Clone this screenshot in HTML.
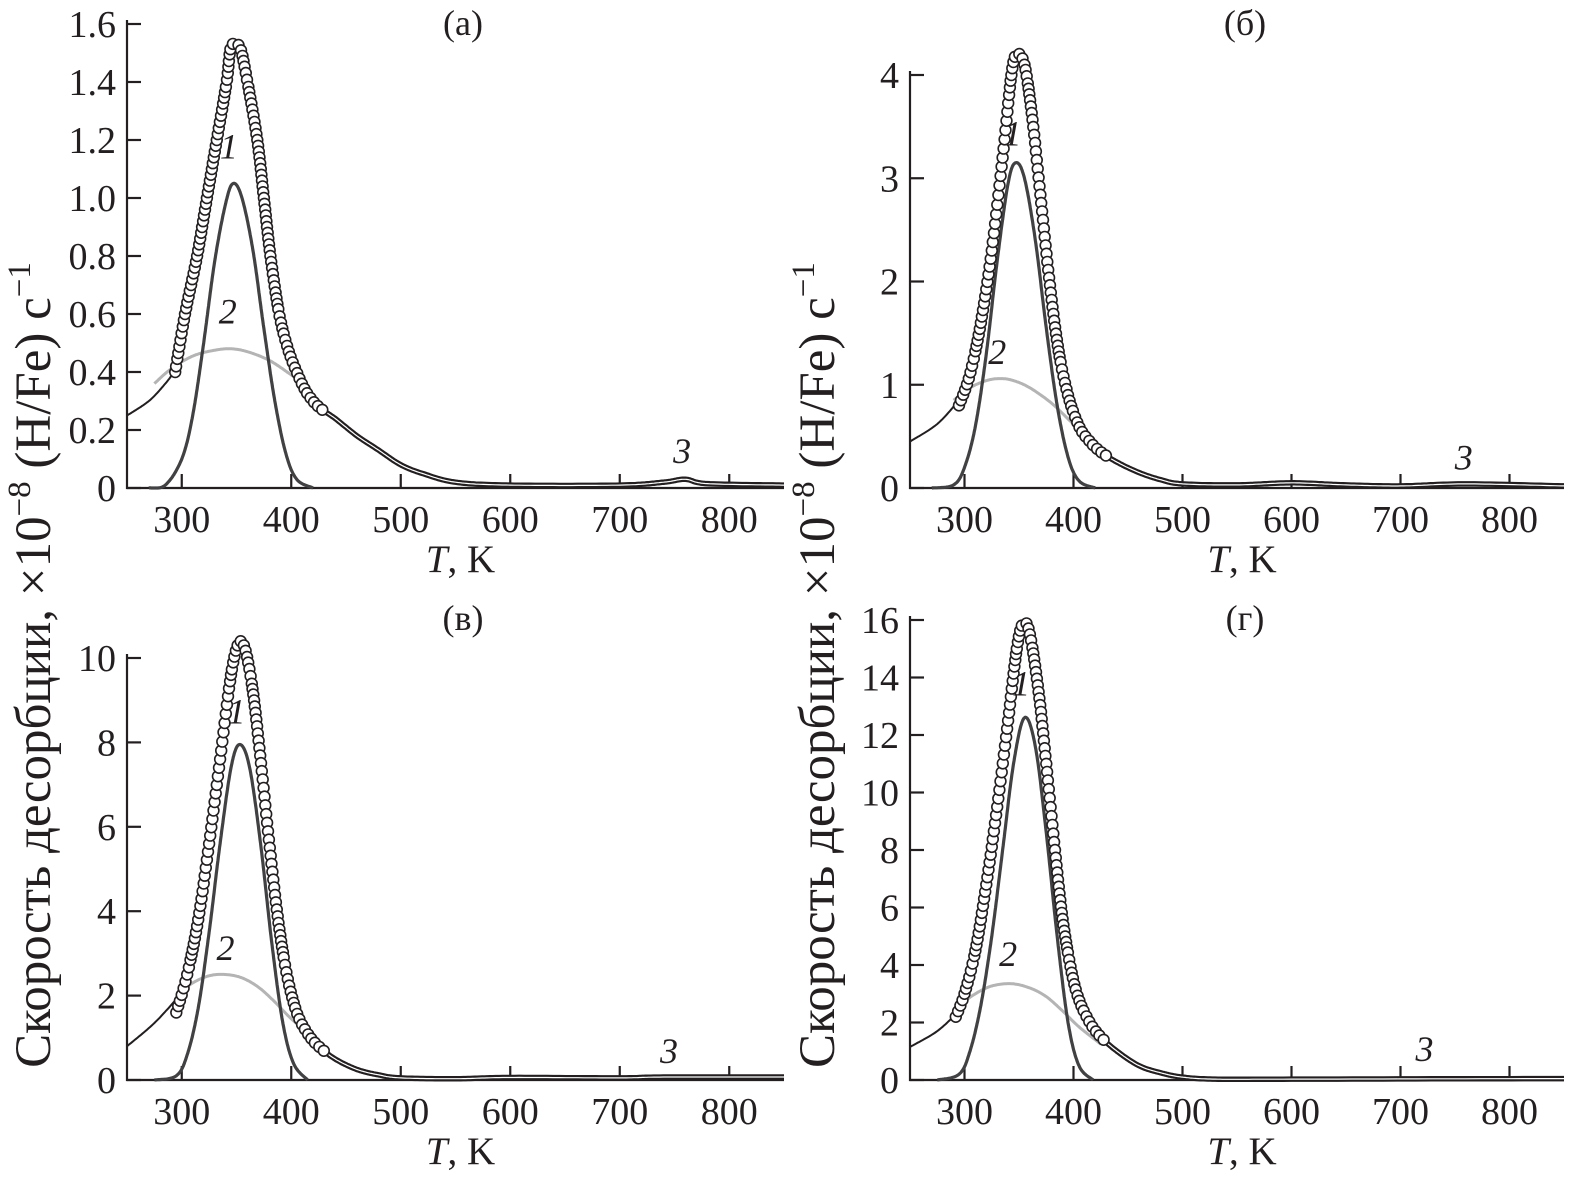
<!DOCTYPE html>
<html><head><meta charset="utf-8"><style>
html,body{margin:0;padding:0;background:#fff}
svg{display:block}
text{font-family:"Liberation Serif","DejaVu Serif",serif;fill:#231f20}
</style></head><body>
<svg id="fig" width="1579" height="1187" viewBox="0 0 1579 1187" xmlns="http://www.w3.org/2000/svg"></svg>
<script>
// ---- data (T in K, rate ×1e-8 (H/Fe)/s) ----
const xTicks = [300,400,500,600,700,800];
const yTicksA = [0,0.2,0.4,0.6,0.8,1.0,1.2,1.4,1.6];
const yTicksB = [0,1,2,3,4];
const yTicksC = [0,2,4,6,8,10];
const yTicksD = [0,2,4,6,8,10,12,14,16];

const a_dataT = [294,303,314,323,332,341,345,353,360,369,375,381,389,397,405,414,425,440,460,480,500,520,550,600,700,740,760,780,850];
const a_dataV = [0.4,0.6,0.8,1.0,1.2,1.4,1.52,1.52,1.4,1.2,1.0,0.8,0.6,0.48,0.4,0.33,0.28,0.24,0.18,0.13,0.08,0.05,0.02,0.01,0.01,0.02,0.03,0.015,0.01];
const a_p1T = [270,285,300,310,320,330,340,347,355,365,375,385,395,405,420];
const a_p1V = [0,0.01,0.1,0.25,0.5,0.78,0.98,1.05,1.0,0.82,0.55,0.3,0.12,0.03,0];
const a_p2T = [275,290,310,330,345,360,380,400,415];
const a_p2V = [0.36,0.41,0.455,0.475,0.48,0.47,0.44,0.39,0.35];
const a_fitT = [250,270,285,295];
const a_fitV = [0.25,0.3,0.36,0.41];

const b_dataT = [295,305,315,325,335,343,348,355,362,370,378,386,395,405,415,425,440,460,480,500,550,600,650,700,760,850];
const b_dataV = [0.8,1.1,1.6,2.3,3.2,4.0,4.2,4.1,3.6,2.8,2.0,1.35,0.9,0.6,0.45,0.35,0.25,0.15,0.08,0.04,0.03,0.05,0.03,0.02,0.04,0.02];
const b_p1T = [270,290,300,310,320,330,340,347,355,365,375,385,395,405,420];
const b_p1V = [0,0.03,0.2,0.6,1.3,2.2,2.95,3.15,3.0,2.4,1.55,0.8,0.3,0.07,0];
const b_p2T = [290,305,320,333,345,360,380,400,420];
const b_p2V = [0.85,0.97,1.04,1.06,1.04,0.97,0.82,0.62,0.45];
const b_fitT = [250,275,295];
const b_fitV = [0.45,0.62,0.85];

const c_dataT = [295,305,315,325,335,345,352,358,365,372,380,388,396,405,415,425,440,460,480,500,550,600,700,740,850];
const c_dataV = [1.6,2.5,3.8,5.6,7.6,9.6,10.35,10.2,9.2,7.6,5.6,3.8,2.5,1.6,1.1,0.8,0.5,0.25,0.12,0.05,0.03,0.06,0.05,0.07,0.07];
const c_p1T = [275,295,305,315,325,335,345,353,362,372,382,392,402,415];
const c_p1V = [0,0.1,0.6,1.7,3.5,5.6,7.4,7.95,7.4,5.6,3.3,1.4,0.4,0];
const c_p2T = [298,310,325,340,355,370,385,400,420];
const c_p2V = [2.05,2.3,2.47,2.5,2.42,2.2,1.85,1.45,1.0];
const c_fitT = [250,275,298];
const c_fitV = [0.8,1.35,2.0];

const d_dataT = [292,300,310,320,330,340,348,354,360,368,375,383,390,398,405,415,425,440,460,480,500,530,600,850];
const d_dataV = [2.2,3.0,4.5,6.8,9.5,12.5,15.0,15.9,15.5,13.5,11.0,8.0,5.6,3.8,2.8,2.0,1.5,1.0,0.5,0.25,0.1,0.03,0.03,0.05];
const d_p1T = [275,295,305,315,325,335,345,355,365,375,385,395,405,418];
const d_p1V = [0,0.2,1.0,2.6,5.0,8.0,11.0,12.6,11.6,8.6,5.0,2.0,0.5,0];
const d_p2T = [295,310,325,343,360,375,390,405,425];
const d_p2V = [2.6,3.0,3.27,3.35,3.2,2.9,2.4,1.85,1.25];
const d_fitT = [250,275,295];
const d_fitV = [1.15,1.7,2.4];

const panels = [
 {id:'a',title:'(а)',x0:127,px100:109.5,xMax:850,yBase:488,yTop:24,yMax:1.6,ticks:yTicksA,fmt:v=>v===0?'0':v.toFixed(1),
  data:[a_dataT,a_dataV],p1:[a_p1T,a_p1V],p2:[a_p2T,a_p2V],fit:[a_fitT,a_fitV],lab:{l1:[343,1.13],l2:[342,0.56],l3:[757,0.08]},titleX:463,titleY:35},
 {id:'b',title:'(б)',x0:910,px100:109,xMax:850,yBase:488,yTop:75,yMax:4,ticks:yTicksB,fmt:v=>String(v),
  data:[b_dataT,b_dataV],p1:[b_p1T,b_p1V],p2:[b_p2T,b_p2V],fit:[b_fitT,b_fitV],lab:{l1:[344,3.3],l2:[330,1.18],l3:[758,0.16]},titleX:1245,titleY:35},
 {id:'c',title:'(в)',x0:127,px100:109.5,xMax:850,yBase:1080,yTop:658,yMax:10,ticks:yTicksC,fmt:v=>String(v),
  data:[c_dataT,c_dataV],p1:[c_p1T,c_p1V],p2:[c_p2T,c_p2V],fit:[c_fitT,c_fitV],lab:{l1:[350,8.4],l2:[340,2.8],l3:[745,0.35]},titleX:463,titleY:630},
 {id:'d',title:'(г)',x0:910,px100:109,xMax:850,yBase:1080,yTop:620,yMax:16,ticks:yTicksD,fmt:v=>String(v),
  data:[d_dataT,d_dataV],p1:[d_p1T,d_p1V],p2:[d_p2T,d_p2V],fit:[d_fitT,d_fitV],lab:{l1:[352,13.3],l2:[340,3.9],l3:[722,0.6]},titleX:1245,titleY:630}
];

const svg = document.getElementById('fig');
const NS='http://www.w3.org/2000/svg';
function mk(tag,attrs,parent){const e=document.createElementNS(NS,tag);for(const k in attrs)e.setAttribute(k,attrs[k]);(parent||svg).appendChild(e);return e;}

function smooth(T,V){
  const out=[];
  for(let i=0;i<T.length-1;i++){
    const p0=i>0?i-1:i, p3=i+2<T.length?i+2:i+1;
    for(let s=0;s<20;s++){
      const t=s/20,t2=t*t,t3=t2*t;
      const f=(a,b,c,d)=>0.5*((2*b)+(-a+c)*t+(2*a-5*b+4*c-d)*t2+(-a+3*b-3*c+d)*t3);
      out.push([f(T[p0],T[i],T[i+1],T[p3]),f(V[p0],V[i],V[i+1],V[p3])]);
    }
  }
  out.push([T[T.length-1],V[V.length-1]]);
  return out;
}

panels.forEach(P=>{
  const g=mk('g',{});
  
  
  const X=t=>P.x0+(t-250)*P.px100/100;
  const Y=v=>P.yBase-(v/P.yMax)*(P.yBase-P.yTop);
  const xEnd=X(P.xMax);
  const ax=mk('path',{d:`M${P.x0},${P.yTop-4}V${P.yBase}H${xEnd}`,fill:'none',stroke:'#231f20','stroke-width':2.2},g);
  
  
  P.ticks.forEach(v=>{
    mk('line',{x1:P.x0,x2:P.x0+14,y1:Y(v),y2:Y(v),stroke:'#231f20','stroke-width':2.2},g);
    const t=mk('text',{x:P.x0-11,y:Y(v)+13,'font-size':38,'text-anchor':'end'},g);
    t.textContent=P.fmt(v);
    
    
  });
  xTicks.forEach(v=>{
    mk('line',{x1:X(v),x2:X(v),y1:P.yBase,y2:P.yBase-14,stroke:'#231f20','stroke-width':2.2},g);
    const t=mk('text',{x:X(v),y:P.yBase+44,'font-size':38,'text-anchor':'middle'},g);
    t.textContent=v;
    
    
  });
  const xl=mk('text',{x:(P.x0+xEnd)/2+5,y:P.yBase+84,'font-size':39,'text-anchor':'middle'},g);
  xl.innerHTML='<tspan font-style="italic">T</tspan>, K';
  
  
  const tt=mk('text',{x:P.titleX,y:P.titleY,'font-size':36,'text-anchor':'middle'},g);
  tt.textContent=P.title;
  
  
  const toPath=pts=>pts.map((p,i)=>(i?'L':'M')+X(p[0]).toFixed(1)+','+Y(Math.max(0,p[1])).toFixed(1)).join('');
  const c2=mk('path',{d:toPath(smooth(P.p2[0],P.p2[1])),fill:'none',stroke:'#b4b4b4','stroke-width':3},g);
  
  
  const c1=mk('path',{d:toPath(smooth(P.p1[0],P.p1[1])),fill:'none',stroke:'#414042','stroke-width':3.2},g);
  
  
  const cf=mk('path',{d:toPath(smooth(P.fit[0],P.fit[1])),fill:'none',stroke:'#231f20','stroke-width':2},g);
  
  
  const dense=smooth(P.data[0],P.data[1]);
  const ct=mk('path',{d:toPath(dense),fill:'none',stroke:'#231f20','stroke-width':5.5},g);
  
  
  const ct2=mk('path',{d:toPath(dense),fill:'none',stroke:'#fff','stroke-width':1.2},g);
  
  
  let last=null;
  dense.forEach(p=>{
    if(p[0]>430) return;
    const px=X(p[0]),py=Y(p[1]);
    if(last && Math.hypot(px-last[0],py-last[1])<5.2) return;
    last=[px,py];
    const c=mk('circle',{cx:px.toFixed(1),cy:py.toFixed(1),r:5.4,fill:'#fff',stroke:'#231f20','stroke-width':1.6},g);
    
    
  });
  [['1',P.lab.l1],['2',P.lab.l2],['3',P.lab.l3]].forEach(([s,pos])=>{
    const t=mk('text',{x:X(pos[0]),y:Y(pos[1])-2,'font-size':36,'font-style':'italic','text-anchor':'middle'},g);
    t.textContent=s;
    
    
  });
});

[[50,'left'],[834,'right']].forEach(([x,side])=>{
  const t=mk('text',{x:x,y:665,'font-size':51,'text-anchor':'middle',transform:`rotate(-90 ${x} 665)`});
  t.innerHTML='Скорость десорбции, ×10<tspan dy="-20" font-size="33">−8</tspan><tspan dy="20"> (H/Fe) с</tspan><tspan dy="-20" font-size="33">−1</tspan>';
  
  
});
</script>
</body></html>
